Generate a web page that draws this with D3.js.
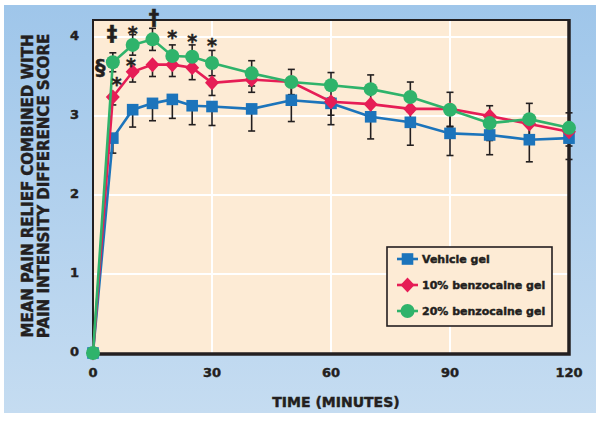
<!DOCTYPE html>
<html>
<head>
<meta charset="utf-8">
<script src="https://cdn.jsdelivr.net/npm/d3@7/dist/d3.min.js"></script>
<style>
  html, body { margin: 0; padding: 0; background: #fff; }
  svg { display: block; }
</style>
</head>
<body>
<div id="chart"></div>
<script>
// time points (minutes)
var times = [0, 5, 10, 15, 20, 25, 30, 40, 50, 60, 70, 80, 90, 100, 110, 120];

// mean scores
var vehicle = [0, 2.72, 3.08, 3.16, 3.21, 3.13, 3.12, 3.09, 3.20, 3.16, 2.99, 2.92, 2.78, 2.76, 2.70, 2.72];
var benzo10 = [0, 3.24, 3.56, 3.65, 3.65, 3.61, 3.42, 3.46, 3.43, 3.18, 3.15, 3.09, 3.09, 3.00, 2.90, 2.80];
var benzo20 = [0, 3.68, 3.90, 3.97, 3.76, 3.75, 3.67, 3.54, 3.43, 3.39, 3.34, 3.24, 3.08, 2.91, 2.96, 2.85];

// standard errors
var vehicleSE = [0, 0.19, 0.22, 0.22, 0.24, 0.24, 0.24, 0.28, 0.27, 0.27, 0.28, 0.29, 0.28, 0.25, 0.28, 0.27];
var benzo10SE = [0, 0.10, 0.13, 0.15, 0.15, 0.15, 0.16, 0.16, 0.17, 0.17, 0.17, 0.17, 0.22, 0.18, 0.18, 0.18];
var benzo20SE = [0, 0.12, 0.13, 0.14, 0.14, 0.15, 0.16, 0.16, 0.16, 0.16, 0.18, 0.19, 0.22, 0.22, 0.20, 0.19];

var seriesNames = ["Vehicle gel", "10% benzocaine gel", "20% benzocaine gel"];
var xTicks = [0, 30, 60, 90, 120];
var yTicks = [0, 1, 2, 3, 4];

// significance marks (time, score)
var sigMarks = [
    { t: 1.8, v: 3.62, s: "§" },
    { t: 4.8, v: 4.05, s: "‡" },
    { t: 15.4, v: 4.25, s: "†" },
    { t: 6, v: 3.46, s: "*" },
    { t: 9.6, v: 3.70, s: "*" },
    { t: 10, v: 4.11, s: "*" },
    { t: 20, v: 4.06, s: "*" },
    { t: 25, v: 4.01, s: "*" },
    { t: 30, v: 3.96, s: "*" }
];

var width = 600, height = 422;
var plot = { left: 93, right: 569, top: 20, bottom: 354 };
var ink = "#231f20";
var font = "'DejaVu Sans', sans-serif";

var series = [
    { name: seriesNames[0], values: vehicle, se: vehicleSE, color: "#1c74bb", shape: "square", up: false },
    { name: seriesNames[1], values: benzo10, se: benzo10SE, color: "#e61d56", shape: "diamond", up: false },
    { name: seriesNames[2], values: benzo20, se: benzo20SE, color: "#2fb36b", shape: "circle", up: true }
];

var svg = d3.select("#chart").append("svg")
    .attr("width", width)
    .attr("height", height);

// background gradient
var grad = svg.append("defs").append("linearGradient")
    .attr("id", "bg")
    .attr("x1", 0).attr("y1", 0).attr("x2", 0).attr("y2", 1);
grad.append("stop").attr("offset", "0%").attr("stop-color", "#9fc6ea");
grad.append("stop").attr("offset", "100%").attr("stop-color", "#c5dcf1");

svg.append("rect")
    .attr("x", 4).attr("y", 5)
    .attr("width", 592).attr("height", 408)
    .attr("fill", "url(#bg)");

var x = d3.scaleLinear().domain([0, 120]).range([plot.left, plot.right]);
var y = d3.scaleLinear().domain([0, 4]).range([353, 37]);

// plot area
svg.append("rect")
    .attr("x", plot.left).attr("y", plot.top)
    .attr("width", plot.right - plot.left).attr("height", plot.bottom - plot.top)
    .attr("fill", "#fdebd5");

// grid
svg.append("g").selectAll("line")
    .data(yTicks.filter(d => d > 0))
    .enter().append("line")
    .attr("x1", plot.left).attr("x2", plot.right)
    .attr("y1", d => y(d)).attr("y2", d => y(d))
    .attr("stroke", "#fff").attr("stroke-width", 2);
svg.append("g").selectAll("line")
    .data(xTicks.filter(d => d > 0 && d < 120))
    .enter().append("line")
    .attr("y1", plot.top).attr("y2", plot.bottom)
    .attr("x1", d => x(d)).attr("x2", d => x(d))
    .attr("stroke", "#fff").attr("stroke-width", 2);

// frame
svg.append("rect")
    .attr("x", plot.left).attr("y", plot.top)
    .attr("width", plot.right - plot.left).attr("height", plot.bottom - plot.top)
    .attr("fill", "none").attr("stroke", ink).attr("stroke-width", 2);
svg.append("path")
    .attr("d", `M${plot.right},${plot.top - 1}V${plot.bottom}H${plot.left - 1}`)
    .attr("fill", "none").attr("stroke", ink).attr("stroke-width", 3.5);

// heavy label style
function heavy(sel, size) {
    return sel.attr("font-family", font).attr("font-weight", "bold").attr("font-size", size)
        .attr("fill", ink).attr("stroke", ink).attr("stroke-width", 0.45);
}

// tick labels
heavy(svg.append("g").selectAll("text")
    .data(yTicks)
    .enter().append("text")
    .attr("x", 79).attr("y", d => y(d) - 2)
    .attr("text-anchor", "end").attr("dominant-baseline", "central"), 13)
    .text(d => d);
heavy(svg.append("g").selectAll("text")
    .data(xTicks)
    .enter().append("text")
    .attr("x", d => x(d)).attr("y", 372)
    .attr("text-anchor", "middle").attr("dominant-baseline", "central"), 13)
    .text(d => d);

// axis titles
heavy(svg.append("text")
    .attr("x", 336).attr("y", 402)
    .attr("text-anchor", "middle").attr("dominant-baseline", "central"), 14)
    .text("TIME (MINUTES)");
var yTitle = heavy(svg.append("text")
    .attr("transform", translate(0, 186) + " rotate(-90)")
    .attr("text-anchor", "middle"), 15);
yTitle.append("tspan").attr("x", 0).attr("y", 33).text("MEAN PAIN RELIEF COMBINED WITH");
yTitle.append("tspan").attr("x", 0).attr("y", 49).text("PAIN INTENSITY DIFFERENCE SCORE");

// error bars
var errGroup = svg.append("g");
series.forEach(function (s) {
    var pts = times.map((t, i) => ({ t: t, v: s.values[i], se: s.se[i] })).filter(d => d.se > 0);
    var g = errGroup.append("g").selectAll("g").data(pts).enter().append("g");
    g.append("line")
        .attr("x1", d => x(d.t)).attr("x2", d => x(d.t))
        .attr("y1", d => y(s.up ? d.v + d.se : d.v))
        .attr("y2", d => y(d.v - d.se))
        .attr("stroke", ink).attr("stroke-width", 1.6);
    [-1, s.up ? 1 : null].filter(k => k !== null).forEach(function (k) {
        g.append("line")
            .attr("x1", d => x(d.t) - 3.5).attr("x2", d => x(d.t) + 3.5)
            .attr("y1", d => y(d.v + k * d.se)).attr("y2", d => y(d.v + k * d.se))
            .attr("stroke", ink).attr("stroke-width", 1.6);
    });
});

function marker(sel, shape, color) {
    if (shape === "square") {
        sel.append("rect").attr("x", -5.8).attr("y", -5.8).attr("width", 11.6).attr("height", 11.6).attr("fill", color);
    } else if (shape === "diamond") {
        sel.append("path").attr("d", "M0,-7.5L7,0L0,7.5L-7,0Z").attr("fill", color);
    } else {
        sel.append("circle").attr("r", 7).attr("fill", color);
    }
}

var line = d3.line().x(d => x(d.t)).y(d => y(d.v));

series.forEach(function (s) {
    var pts = times.map((t, i) => ({ t: t, v: s.values[i] }));
    var g = svg.append("g");
    g.append("path")
        .datum(pts)
        .attr("d", line)
        .attr("fill", "none").attr("stroke", s.color).attr("stroke-width", 2.6);
    g.selectAll("g.pt")
        .data(pts)
        .enter().append("g")
        .attr("class", "pt")
        .attr("transform", d => translate(x(d.t), y(d.v)))
        .each(function () { marker(d3.select(this), s.shape, s.color); });
});

// significance marks
heavy(svg.append("g").selectAll("text")
    .data(sigMarks)
    .enter().append("text")
    .attr("x", d => x(d.t)).attr("y", d => y(d.v))
    .attr("dy", d => d.s === "*" ? "0.62em" : "0.36em")
    .attr("text-anchor", "middle"), 19)
    .attr("font-size", d => d.s === "*" ? 19 : 21)
    .text(d => d.s);

// legend
var legend = svg.append("g").attr("transform", translate(387, 247));
legend.append("rect")
    .attr("width", 165).attr("height", 79)
    .attr("fill", "#fdebd5").attr("stroke", ink).attr("stroke-width", 1.6);
var item = legend.selectAll("g.item")
    .data(series)
    .enter().append("g")
    .attr("class", "item")
    .attr("transform", (d, i) => translate(0, 12 + i * 26));
item.append("line")
    .attr("x1", 10).attr("x2", 31)
    .attr("stroke", d => d.color).attr("stroke-width", 2.6);
item.each(function (d) {
    var m = d3.select(this).append("g").attr("transform", translate(20.5, 0));
    marker(m, d.shape, d.color);
});
heavy(item.append("text")
    .attr("x", 35).attr("y", 0)
    .attr("dominant-baseline", "central"), 11)
    .text(d => d.name);

function translate(x, y) {
    return `translate(${x}, ${y})`;
}
</script>
</body>
</html>
